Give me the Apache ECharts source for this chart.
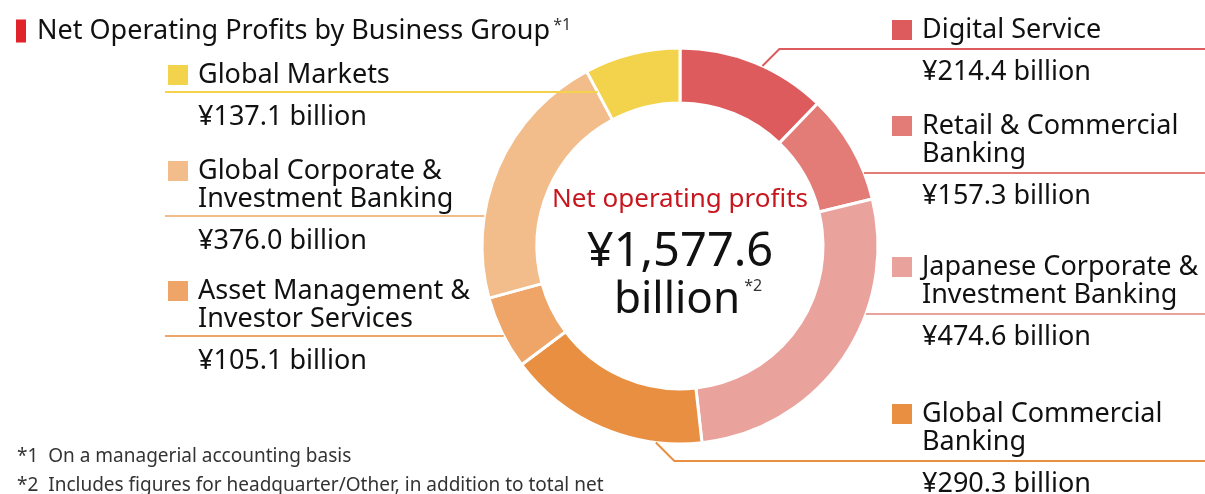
<!DOCTYPE html>
<html>
<head>
<meta charset="utf-8">
<script src="https://cdn.jsdelivr.net/npm/echarts@6/dist/echarts.min.js"></script>
<style>
  html, body { margin: 0; padding: 0; background: #fff; }
  #chart { width: 1205px; height: 494px; }
</style>
</head>
<body>
<div id="chart"></div>
<script>
// data (¥ billion)
const groups = [
  'Digital Service',
  'Retail & Commercial\nBanking',
  'Japanese Corporate &\nInvestment Banking',
  'Global Commercial\nBanking',
  'Asset Management &\nInvestor Services',
  'Global Corporate &\nInvestment Banking',
  'Global Markets'
]
const profits = [214.4, 157.3, 474.6, 290.3, 105.1, 376.0, 137.1]
const totalText = '¥1,577.6'
const colors = ['#DD5B5C', '#E37B77', '#EAA39C', '#E98F42', '#EEA567', '#F3BD8B', '#F3D34B']

// label layout: which side, y of the rule under the name, optional anchor angle (deg from top)
const sides = ['right', 'right', 'right', 'right', 'left', 'left', 'left']
const ruleY = [49, 173, 314, 461, 336, 216, 92]
const anchorDeg = [24.6, null, null, 187, null, null, null]

const CX = 680, CY = 246, R_IN = 143, R_OUT = 198
const FONT = '"Noto Sans", sans-serif'
const ROW = 28

const sum = profits.reduce((a, b) => a + b, 0)
const startDeg = []
let acc = 0
profits.forEach((v) => { startDeg.push(acc / sum * 360); acc += v })

function onRing(deg) {
  let a = deg * Math.PI / 180
  return [CX + R_OUT * Math.sin(a), CY - R_OUT * Math.cos(a)]
}

// leader line + label position for each slice
function layoutLabel(params) {
  let i = params.dataIndex
  let rows = groups[i].split('\n').length
  let y = ruleY[i]
  let right = sides[i] === 'right'
  let labelX = right ? 892 : 168
  let edge = right ? 1205 : 165
  let pts
  if (anchorDeg[i] !== null) {
    let a = onRing(anchorDeg[i])
    let dx = Math.abs(a[1] - y)
    pts = [a, [a[0] + (right ? dx : -dx), y], [edge, y]]
  } else {
    let dy = y - CY
    let x = right ? CX + Math.sqrt(R_OUT * R_OUT - dy * dy) : CX - Math.sqrt(R_OUT * R_OUT - dy * dy)
    let deg = (Math.atan2(x - CX, CY - y) * 180 / Math.PI + 360) % 360
    let s = startDeg[i], e = s + profits[i] / sum * 360
    if (deg < s || deg > e) {
      // the rule runs on across the ring to the slice's edge
      let a = (deg < s ? s : e) * Math.PI / 180
      x = CX + (CY - y) / Math.cos(a) * Math.sin(a)
    }
    pts = [[x, y], [(x + edge) / 2, y], [edge, y]]
  }
  return {
    x: labelX,
    y: y - (right ? 5 : 3) - rows * ROW,
    align: 'left',
    verticalAlign: 'top',
    labelLinePoints: pts,
  }
}

var myChart = echarts.init(document.getElementById('chart'))
var option = {
  animation: false,
  title: {
    left: 11,
    top: 12,
    text: '{bar|}{t|Net Operating Profits by Business Group}{s|*1}',
    textStyle: {
      fontWeight: 'normal',
      rich: {
        bar: { width: 10, height: 23, backgroundColor: '#E1242B' },
        t: { fontFamily: FONT, fontSize: 27, fontWeight: 'normal', color: '#111', padding: [0, 0, 0, 11] },
        s: { fontFamily: FONT, fontSize: 16, fontWeight: 'normal', color: '#333', verticalAlign: 'top', padding: [0, 0, 12, 3] },
      },
    },
  },
  color: colors,
  series: [
    {
      // the ring
      type: 'pie',
      center: [CX, CY],
      radius: [R_IN, R_OUT],
      startAngle: 90,
      clockwise: true,
      silent: true,
      z: 2,
      itemStyle: { borderColor: '#fff', borderWidth: 3 },
      label: { show: false },
      labelLine: { show: false },
      data: groups.map((name, i) => ({ name, value: profits[i] })),
    },
    {
      // labels and rules, drawn above the ring
      type: 'pie',
      center: [CX, CY],
      radius: [R_IN, R_OUT],
      startAngle: 90,
      clockwise: true,
      silent: true,
      z: 3,
      avoidLabelOverlap: false,
      itemStyle: { color: 'transparent', borderWidth: 0 },
      data: groups.map((name, i) => ({
        name,
        value: profits[i],
        labelLine: { lineStyle: { color: colors[i] } },
      })),
      label: {
        show: true,
        position: 'outside',
        formatter: (p) => {
          let lines = p.name.split('\n').map((l, i) => (i === 0 ? '{sq' + p.dataIndex + '|}{gap|}' : '{ind|}') + '{nm|' + l + '}')
          lines.push('{sp| }')
          lines.push('{ind|}{val|¥' + p.value.toFixed(1) + ' billion}')
          return lines.join('\n')
        },
        rich: Object.assign({
          gap: { width: 10, height: 20 },
          ind: { width: 30, height: 20 },
          nm: { fontFamily: FONT, fontSize: 27, color: '#111', lineHeight: ROW },
          val: { fontFamily: FONT, fontSize: 27, color: '#111', lineHeight: ROW },
          sp: { fontSize: 1, lineHeight: 14, height: 14 },
        }, Object.fromEntries(colors.map((c, i) => ['sq' + i, { width: 20, height: 20, backgroundColor: c }]))),
      },
      labelLine: { show: true, lineStyle: { width: 2 } },
      labelLayout: layoutLabel,
    },
  ],
  graphic: [
    {
      type: 'text', x: 680, y: 200,
      style: { text: 'Net operating profits', font: '26px ' + FONT, fill: '#C8161E', align: 'center', verticalAlign: 'middle' },
    },
    {
      type: 'text', x: 680, y: 253,
      style: { text: totalText, font: '47px ' + FONT, fill: '#111', align: 'center', verticalAlign: 'middle' },
    },
    {
      type: 'text', x: 688, y: 300,
      style: {
        text: '{b|billion}{s|*2}', align: 'center', verticalAlign: 'middle',
        rich: {
          b: { fontFamily: FONT, fontSize: 44, fill: '#111' },
          s: { fontFamily: FONT, fontSize: 16, fill: '#333', verticalAlign: 'top', padding: [0, 0, 22, 4] },
        },
      },
    },
    {
      type: 'text', x: 17, y: 457,
      style: { text: '*1  On a managerial accounting basis', font: '19px ' + FONT, fill: '#333', verticalAlign: 'middle' },
    },
    {
      type: 'text', x: 17, y: 486,
      style: { text: '*2  Includes figures for headquarter/Other, in addition to total net', font: '19px ' + FONT, fill: '#333', verticalAlign: 'middle' },
    },
  ],
}
myChart.setOption(option)
</script>
</body>
</html>
